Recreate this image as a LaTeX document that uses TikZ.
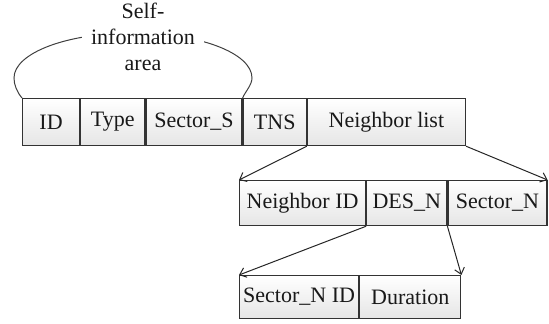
\documentclass[tikz,border=0pt]{standalone}
\usepackage{fontspec}
\setmainfont{Liberation Serif}
\usetikzlibrary{arrows.meta}
\tikzset{
  cell/.style={draw=black!80, line width=0.6pt, rectangle, inner sep=0pt,
    top color=white, bottom color=black!10, anchor=north west,
    font=\fontsize{11}{13}\selectfont, text=black!90},
  arr/.style={draw=black!85, line width=0.5pt, -{Straight Barb[length=3pt,width=5pt]}},
}
\begin{document}
\begin{tikzpicture}[x=0.5pt,y=-0.5pt]
\useasboundingbox (0,0) rectangle (549,324);
% row 1
\node[cell, minimum width=28.5pt, minimum height=23.5pt] (id) at (22,98) {ID};
\node[cell, minimum width=32pt, minimum height=23.5pt] (type) at (id.north east) {Type};
\node[cell, minimum width=48pt, minimum height=23.5pt] (secs) at (type.north east) {Sector\_S};
\node[cell, minimum width=31.5pt, minimum height=23.5pt] (tns) at (secs.north east) {TNS};
\node[cell, minimum width=79pt, minimum height=23.5pt] (nlist) at (tns.north east) {Neighbor list};
% row 2
\node[cell, minimum width=63pt, minimum height=22.5pt] (nid) at (239,180) {Neighbor ID};
\node[cell, minimum width=40pt, minimum height=22.5pt] (des) at (nid.north east) {DES\_N};
\node[cell, minimum width=49.5pt, minimum height=22.5pt] (secn) at (des.north east) {Sector\_N};
% row 3
\node[cell, minimum width=59.5pt, minimum height=21.5pt] (snid) at (239,275) {Sector\_N ID};
\node[cell, minimum width=50.5pt, minimum height=21.5pt] (dur) at (snid.north east) {Duration};
% self-information arc
\draw[draw=black!75, line width=0.5pt] (id.north west)
  .. controls (17,92) and (14,85) .. (14,78)
  .. controls (14,53) and (67,33) .. (133,33)
  .. controls (199,33) and (252,53) .. (252,78)
  .. controls (252,85) and (245,92) .. (secs.north east);
\node[align=center, fill=white, inner xsep=4.5pt, inner ysep=1pt, text=black!90,
  font=\fontsize{11}{13}\selectfont] (self) at (143,37) {Self-\\information\\area};
% arrows
\draw[arr] (nlist.south west) -- (nid.north west);
\draw[arr] (nlist.south east) -- (secn.north east);
\draw[arr] (des.south west) -- (snid.north west);
\draw[arr] (des.south east) -- (dur.north east);
\end{tikzpicture}
\end{document}
